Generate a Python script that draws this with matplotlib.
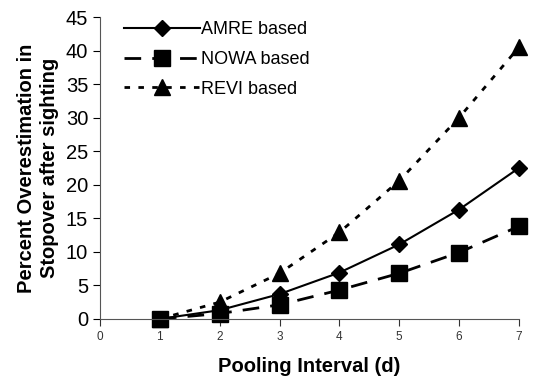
import numpy as np
import matplotlib.pyplot as plt

plt.rcParams['font.family'] = ['Liberation Sans', 'DejaVu Sans']

# Data
days = [1, 2, 3, 4, 5, 6, 7]
amre = [0.0, 1.3, 3.7, 6.9, 11.1, 16.3, 22.5]
nowa = [0.0, 0.8, 2.1, 4.3, 6.8, 9.9, 13.8]
revi = [0.0, 2.5, 6.8, 12.9, 20.6, 30.0, 40.5]

fig = plt.figure(figsize=(5.45, 3.81), dpi=100)
ax = fig.add_axes([0.1835, 0.163, 0.7685, 0.792])

ax.plot(days, amre, color='black', lw=1.5, marker='D', ms=8,
        label='AMRE based', clip_on=False)
ax.plot(days, nowa, color='black', lw=2, ls=(0, (6, 4)), marker='s', ms=11,
        label='NOWA based', clip_on=False)
ax.plot(days, revi, color='black', lw=2, ls=(0, (2, 3)), marker='^', ms=11,
        label='REVI based', clip_on=False)

ax.set_xlim(0, 7)
ax.set_ylim(0, 45)
ax.set_xticks(range(0, 8))
ax.set_yticks(range(0, 46, 5))
ax.tick_params(axis='x', labelsize=8.5, length=5, direction='out', colors='#333333')
ax.tick_params(axis='y', labelsize=14.5, length=5, direction='out')
ax.spines['top'].set_visible(False)
ax.spines['right'].set_visible(False)
ax.spines['left'].set_color('#555555')
ax.spines['bottom'].set_color('#555555')

ax.set_xlabel('Pooling Interval (d)', fontsize=14.5, fontweight='bold', labelpad=10)
ax.set_ylabel('Percent Overestimation in\nStopover after sighting',
              fontsize=14.5, fontweight='bold', labelpad=5, linespacing=1.25)

ax.legend(loc='upper left', bbox_to_anchor=(0.018, 1.04), frameon=False,
          fontsize=13, handlelength=4.2, handletextpad=0.1, labelspacing=0.7)

fig.savefig('out.png', dpi=100)
